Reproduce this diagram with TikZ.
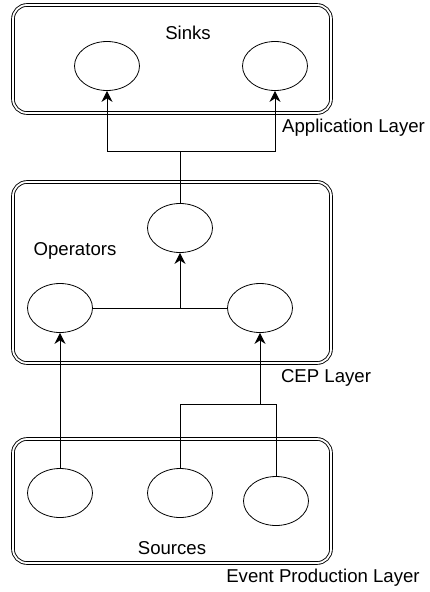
\documentclass[tikz,border=0pt]{standalone}
\usepackage{fontspec}
\setmainfont{Liberation Sans}
\usepackage{tikz}
\usetikzlibrary{shapes.geometric}
\usetikzlibrary{arrows.meta}

\begin{document}
\begin{tikzpicture}[x=1pt,y=-1pt,
    layerbox/.style={draw, double, double distance=1.8pt, line width=0.9pt,
        rounded corners=14pt, minimum width=318pt, minimum height=108pt, inner sep=0pt},
    blob/.style={draw, ellipse, line width=0.8pt, minimum width=65pt, minimum height=49pt, inner sep=0pt},
    txt/.style={font=\fontsize{18.6}{22}\selectfont, inner sep=0pt},
    arr/.style={line width=1pt, -{Stealth[length=11pt,width=11pt,inset=3.5pt]}},
    wire/.style={line width=1pt}]
    \useasboundingbox (0,0) rectangle (429,592);
    % Layers
    \node[layerbox] (sinkbox) at (172,59) {};
    \node[layerbox, minimum height=181pt] (cepbox) at (172,272.5) {};
    \node[layerbox, minimum height=124pt] (srcbox) at (172,501) {};
    % Application layer
    \node[txt] (sinks) at (188,33) {Sinks};
    \node[blob] (sinkA) at (107,66) {};
    \node[blob] (sinkB) at (275,66) {};
    \node[txt, anchor=west] (applbl) at (282,128) {Application Layer};
    % CEP layer
    \node[blob] (opTop) at (180,228) {};
    \node[txt] (ops) at (75,251) {Operators};
    \node[blob] (opLeft) at (60,308) {};
    \node[blob] (opRight) at (260,308) {};
    \node[txt] (ceplbl) at (326,378) {CEP Layer};
    % Event production layer
    \node[blob] (srcA) at (60,493) {};
    \node[blob] (srcB) at (180,493) {};
    \node[blob] (srcC) at (276,501) {};
    \node[txt] (srcs) at (172,548) {Sources};
    \node[txt] (evlbl) at (323,578) {Event Production Layer};
    %
    % Edges:
    \coordinate (split) at (180,151);
    \coordinate (join) at (180,308);
    \coordinate (merge) at (260,404);
    \draw[wire] (opTop.north) -- (split);
    \draw[arr] (split) -| (sinkA.south);
    \draw[arr] (split) -| (sinkB.south);
    \draw[wire] (opLeft.east) -- (opRight.west);
    \draw[arr] (join) -- (opTop.south);
    \draw[arr] (srcA.north) -- (opLeft.south);
    \draw[wire] (srcB.north) |- (srcC.north |- merge) -- (srcC.north);
    \draw[arr] (merge) -- (opRight.south);
\end{tikzpicture}
\end{document}
